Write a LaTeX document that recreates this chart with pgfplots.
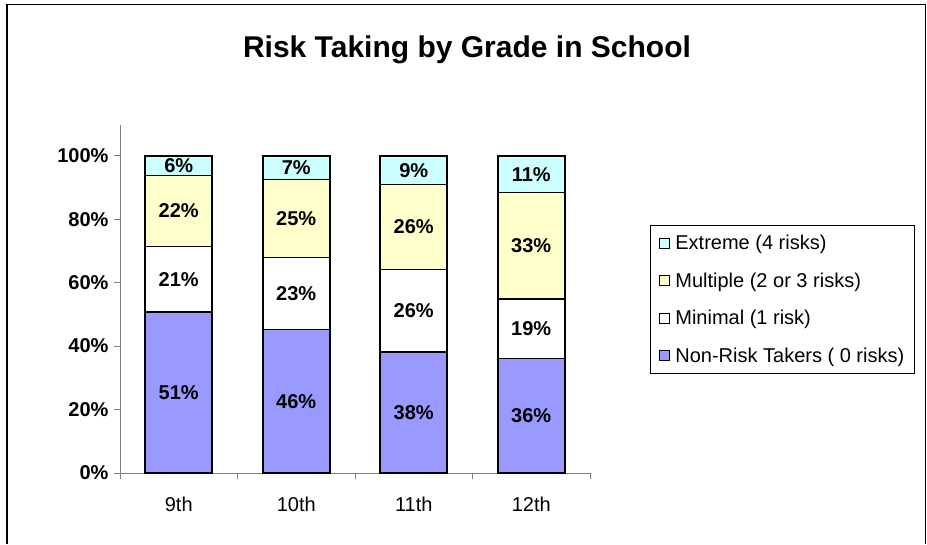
\documentclass[border=0pt]{standalone}
\usepackage{pgfplots}
\pgfplotsset{compat=1.18}
\usepackage{pgfplotstable}
\usepackage{fontspec}
\setmainfont{Liberation Sans}
\definecolor{nonrisk}{HTML}{9999FF}
\definecolor{multi}{HTML}{FFFFCC}
\definecolor{extreme}{HTML}{CCFFFF}
\definecolor{axisgray}{HTML}{7F7F7F}

\pgfplotstableread{
x y lab
0 50.7 51
1 45.2 46
2 38.1 38
3 36.1 36
}\tabnon
\pgfplotstableread{
x y lab
0 20.7 21
1 22.7 23
2 26.1 26
3 18.8 19
}\tabmin
\pgfplotstableread{
x y lab
0 22.4 22
1 24.6 25
2 26.7 26
3 33.5 33
}\tabmul
\pgfplotstableread{
x y lab
0 6.2 6
1 7.5 7
2 9.1 9
3 11.6 11
}\tabext

\pgfplotsset{
  mylegend/.style={legend image code/.code={\draw[##1,draw=black,line width=0.8pt] (0pt,-5pt) rectangle (10pt,5pt);}},
  seglabel/.style={
    point meta=explicit symbolic,
    nodes near coords={\pgfplotspointmeta\%},
    every node near coord/.append style={anchor=center, font=\fontsize{20}{24}\selectfont\bfseries},
  },
}

\begin{document}
\begin{tikzpicture}
\useasboundingbox (0,0) rectangle (927pt,544pt);
\draw[line width=1.5pt] (7pt,0pt) -- (7pt,539.5pt) -- (925.5pt,539.5pt) -- (925.5pt,0pt);
\node[font=\fontsize{30}{34}\selectfont\bfseries] at (467pt,494pt) {Risk Taking by Grade in School};
\begin{axis}[
  at={(120pt,71pt)}, anchor=south west,
  scale only axis, width=470pt, height=348pt,
  ybar stacked, bar width=67pt,
  xmin=-0.5, xmax=3.5, ymin=0, ymax=109.7,
  axis x line*=bottom, axis y line*=left,
  axis line style={-, draw=axisgray, line width=1pt},
  tick style={draw=axisgray, line width=1pt},
  tick align=outside,
  major tick length=6pt, minor tick length=6pt,
  xtick={0,1,2,3}, xticklabels={9th,10th,11th,12th},
  major x tick style={draw=none},
  minor xtick={-0.5,0.5,1.5,2.5,3.5},
  xticklabel style={font=\fontsize{20}{24}\selectfont, yshift=-14pt},
  ytick={0,20,40,60,80,100},
  yticklabels={0\%,20\%,40\%,60\%,80\%,100\%},
  yticklabel style={font=\fontsize{20}{24}\selectfont\bfseries, xshift=-2pt},
  reverse legend,
  legend cell align=left,
  legend style={at={(1.128,0.713)}, anchor=north west, draw=black, line width=0.8pt,
    font=\fontsize{20}{24}\selectfont, row sep=17.5pt, inner sep=8pt,
    /tikz/every odd column/.append style={column sep=4pt}},
  clip=false,
]
\addplot[fill=nonrisk, draw=black, line width=1.6pt, mylegend, seglabel] table[x=x,y=y,meta=lab] {\tabnon};
\addlegendentry{Non-Risk Takers ( 0 risks)}
\addplot[fill=white, draw=black, line width=1.6pt, mylegend, seglabel] table[x=x,y=y,meta=lab] {\tabmin};
\addlegendentry{Minimal (1 risk)}
\addplot[fill=multi, draw=black, line width=1.6pt, mylegend, seglabel] table[x=x,y=y,meta=lab] {\tabmul};
\addlegendentry{Multiple (2 or 3 risks)}
\addplot[fill=extreme, draw=black, line width=1.6pt, mylegend, seglabel] table[x=x,y=y,meta=lab] {\tabext};
\addlegendentry{Extreme (4 risks)}
\end{axis}
\end{tikzpicture}
\end{document}
